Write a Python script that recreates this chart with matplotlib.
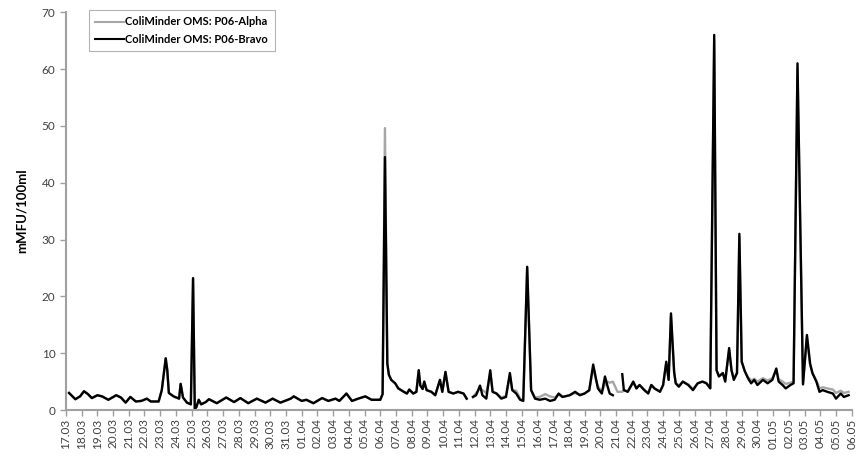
import numpy as np
import pandas as pd
import matplotlib
matplotlib.use("Agg")
import matplotlib.pyplot as plt

plt.rcParams['font.family'] = ['Lato', 'DejaVu Sans']

# time in days since 17.03 (00:00)
t = [0.2, 0.6, 0.9, 1.15, 1.4, 1.65, 2.0, 2.3, 2.7, 3.2, 3.5, 3.8, 4.1, 4.45, 4.8,
     5.15, 5.4, 5.9, 6.1, 6.35, 6.45, 6.55, 6.85, 7.2, 7.3, 7.45, 7.7, 7.95, 8.09, 8.2,
     8.3, 8.45, 8.6, 8.9, 9.1, 9.6, 10.2, 10.7, 11.1, 11.6, 12.15, 12.7, 13.15, 13.65, 14.3,
     14.5, 15.0, 15.3, 15.75, 16.3, 16.7, 17.15, 17.4, 17.85, 18.2, 18.6, 19.05, 19.45, 20.0, 20.15,
     20.3, 20.45, 20.55, 20.7, 20.95, 21.15, 21.5, 21.7, 21.85, 22.1, 22.3, 22.45, 22.55, 22.7, 22.8,
     22.95, 23.25, 23.5, 23.8, 23.95, 24.15, 24.35, 24.65, 24.95, 25.3, 25.5, 25.7, 25.9, 26.1, 26.35,
     26.5, 26.75, 27.0, 27.15, 27.4, 27.7, 28.0, 28.25, 28.4, 28.65, 28.9, 29.1, 29.35, 29.6, 29.85,
     30.15, 30.5, 30.8, 31.1, 31.35, 31.6, 32.05, 32.4, 32.7, 33.0, 33.3, 33.55, 33.7, 33.85, 34.1,
     34.3, 34.45, 34.6, 34.8, 35.1, 35.4, 35.5, 35.75, 36.1, 36.3, 36.5, 36.8, 37.05, 37.25, 37.45,
     37.8, 38.0, 38.2, 38.35, 38.5, 38.7, 38.8, 39.0, 39.25, 39.6, 39.9, 40.2, 40.5, 40.75, 41.0,
     41.25, 41.4, 41.55, 41.8, 41.95, 42.2, 42.35, 42.5, 42.7, 42.85, 43.0, 43.2, 43.4, 43.6, 43.8,
     44.0, 44.35, 44.65, 44.95, 45.2, 45.35, 45.6, 45.8, 46.1, 46.3, 46.55, 46.9, 47.15, 47.35, 47.5,
     47.75, 47.95, 48.15, 48.45, 48.8, 49.0, 49.3, 49.5, 49.8]

nan = np.nan

bravo = [3.0, 1.9, 2.4, 3.3, 2.8, 2.1, 2.6, 2.4, 1.8, 2.6, 2.2, 1.3, 2.3, 1.5, 1.6,
         2.0, 1.5, 1.5, 3.5, 9.1, 7.0, 3.0, 2.4, 2.0, 4.6, 2.2, 1.3, 1.0, 23.2, 0.2,
         0.5, 1.8, 1.0, 1.4, 1.9, 1.2, 2.2, 1.4, 2.1, 1.2, 2.0, 1.3, 2.0, 1.3, 2.0,
         2.4, 1.6, 1.8, 1.2, 2.1, 1.6, 2.0, 1.6, 2.9, 1.6, 2.0, 2.4, 1.8, 1.8, 2.8,
         44.5, 8.2, 6.2, 5.3, 4.7, 3.8, 3.2, 2.9, 3.6, 2.9, 3.2, 7.0, 4.3, 3.7, 5.0,
         3.5, 3.2, 2.6, 5.3, 3.2, 6.7, 3.2, 2.9, 3.2, 2.9, 2.0, nan, 2.3, 2.6, 4.3,
         2.6, 2.0, 7.0, 3.2, 2.9, 2.0, 2.3, 6.5, 3.5, 2.9, 1.8, 1.6, 25.2, 3.5, 2.0,
         1.8, 2.0, 1.6, 1.8, 2.9, 2.3, 2.6, 3.2, 2.6, 2.9, 3.5, 8.0, 5.9, 3.8, 2.9,
         5.9, 4.3, 2.9, 2.6, nan, 6.3, 3.5, 3.2, 5.0, 3.8, 4.4, 3.5, 2.9, 4.4, 3.8,
         3.2, 4.4, 8.5, 5.3, 17.0, 6.7, 4.7, 4.1, 5.0, 4.4, 3.5, 4.7, 5.0, 4.7, 3.8,
         66.0, 7.0, 5.9, 6.5, 5.0, 10.9, 7.0, 5.3, 6.5, 31.0, 8.5, 6.8, 5.6, 4.7, 5.3,
         4.4, 5.3, 4.7, 5.3, 7.3, 5.0, 4.4, 3.8, 4.4, 4.7, 61.0, 4.5, 13.2, 8.2, 6.5,
         5.0, 3.2, 3.5, 3.2, 2.9, 2.0, 2.9, 2.3, 2.6]

alpha = [3.0, 1.9, 2.4, 3.3, 2.8, 2.1, 2.6, 2.4, 1.8, 2.6, 2.2, 1.3, 2.3, 1.5, 1.6,
         2.0, 1.5, 1.5, 3.5, 9.1, 7.0, 3.0, 2.4, 2.0, 4.6, 2.2, 1.3, 1.0, 23.2, 0.2,
         0.5, 1.8, 1.0, 1.4, 1.9, 1.2, 2.2, 1.4, 2.1, 1.2, 2.0, 1.3, 2.0, 1.3, 2.0,
         2.4, 1.6, 1.8, 1.2, 2.1, 1.6, 2.0, 1.6, 2.9, 1.6, 2.0, 2.4, 1.8, 1.8, 2.8,
         49.6, 8.2, 6.2, 5.3, 4.7, 3.8, 3.2, 2.9, 3.6, 2.9, 3.2, 7.0, 4.3, 3.7, 5.0,
         3.5, 3.2, 2.6, 5.3, 3.2, 6.7, 3.2, 2.9, 3.2, 2.9, 2.0, nan, 2.3, 3.0, 3.8,
         3.5, 3.0, 6.5, 3.2, 2.9, 2.2, 2.5, 6.0, 3.5, 3.4, 2.0, 1.7, 25.0, 3.5, 2.2,
         2.3, 2.8, 2.4, 2.2, 2.7, 2.3, 2.6, 3.0, 2.7, 2.9, 3.4, 7.5, 5.5, 4.2, 3.2,
         4.5, 5.0, 4.8, 5.0, 3.2, 3.2, 3.5, 3.3, 4.8, 3.8, 4.4, 3.6, 3.0, 4.4, 3.8,
         3.3, 4.4, 8.2, 5.3, 16.5, 6.7, 4.8, 4.3, 5.0, 4.5, 3.7, 4.7, 5.0, 4.8, 3.9,
         65.0, 7.0, 6.0, 6.5, 5.2, 10.5, 7.0, 5.5, 6.5, 30.5, 8.5, 6.8, 5.8, 5.2, 5.5,
         5.0, 5.6, 5.2, 5.6, 7.0, 5.4, 5.0, 4.6, 4.8, 5.0, 60.0, 4.8, 12.8, 8.0, 6.5,
         5.2, 3.8, 4.0, 3.8, 3.6, 3.0, 3.4, 3.0, 3.2]

start_day = '2013-03-17'
n_days = 50
date_labels = list(pd.date_range(start_day, periods=n_days + 1).strftime('%d.%m'))

fig = plt.figure(figsize=(8.56, 4.61), dpi=100)
ax = fig.add_axes([0.077, 0.1106, 0.918, 0.863])

ax.plot(t, alpha, color='#A6A6A6', lw=1.7, label='ColiMinder OMS: P06-Alpha')
ax.plot(t, bravo, color='black', lw=1.7, label='ColiMinder OMS: P06-Bravo')

ax.set_xlim(0, n_days)
ax.set_ylim(0, 70)
ax.set_yticks(range(0, 71, 10))
ax.set_xticks(range(n_days + 1))
ax.set_xticklabels(date_labels, rotation=90, fontsize=8.5, color='#404040')
ax.tick_params(axis='y', labelsize=8.5, labelcolor='#404040', direction='out',
               length=4, color='#A0A0A0', width=1)
ax.tick_params(axis='x', direction='out', length=4, color='#A0A0A0', width=1, pad=2)

for s in ['top', 'right']:
    ax.spines[s].set_visible(False)
for s in ['left', 'bottom']:
    ax.spines[s].set_color('#A0A0A0')
    ax.spines[s].set_linewidth(1.5)

ax.set_ylabel('mMFU/100ml', fontsize=9.5, fontweight='bold', labelpad=10)

leg = ax.legend(loc='upper left', bbox_to_anchor=(0.029, 1.006),
                prop={'weight': 'bold', 'size': 8}, frameon=True, fancybox=False,
                handlelength=2.6, handletextpad=0.1, borderpad=0.6, labelspacing=0.55,
                borderaxespad=0)
leg.get_frame().set_edgecolor('#A0A0A0')
leg.get_frame().set_linewidth(0.8)
for line in leg.get_lines():
    line.set_linewidth(1.5)

fig.savefig('out.png', dpi=100)
